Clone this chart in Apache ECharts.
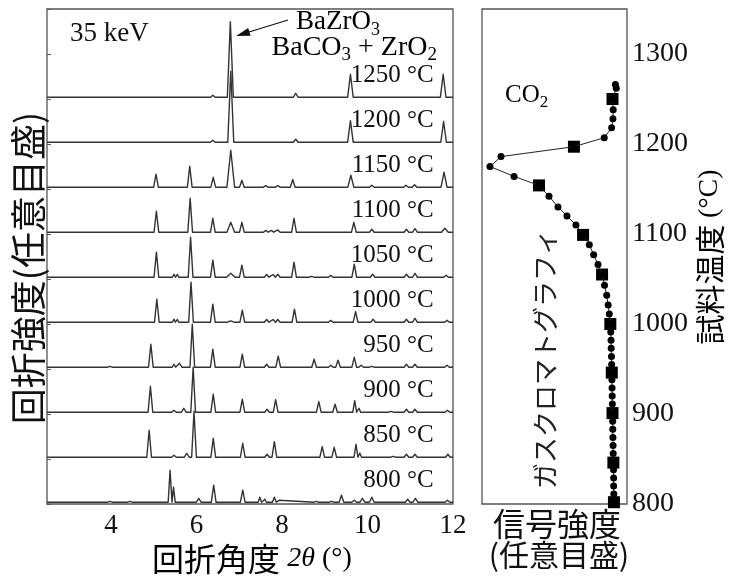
<!DOCTYPE html>
<html><head><meta charset="utf-8">
<script src="https://cdn.jsdelivr.net/npm/echarts@6/dist/echarts.min.js"></script>
<style>html,body{margin:0;padding:0;background:#fff}#c{width:734px;height:576px}</style>
</head><body><div id="c"></div>
<script>
// ---- data ----
const temps = [800, 850, 900, 950, 1000, 1050, 1100, 1150, 1200, 1250];
const tempLabels = ['800 °C','850 °C','900 °C','950 °C','1000 °C','1050 °C','1100 °C','1150 °C','1200 °C','1250 °C'];
// peaks: [2θ, intensity (a.u.), half-width]
const peaks800 = [[3.97,1],[4.44,1],[5.38,35.5,0.045],[5.46,16.7,0.04],[6.05,4.4],[6.40,18.9],[7.08,13.3],[7.48,5.5,0.04],[7.60,3.3,0.035],[7.68,2.2,0.035],[7.82,5.5,0.045],[7.94,2.2,0.04],[8.80,1],[9.16,1],[9.39,7.8],[9.69,2.2],[9.88,4.4],[10.10,5.5],[10.94,3.3],[11.12,4.4],[11.87,2.2]];
const peaks850 = [[4.89,30],[5.47,2.2],[5.77,4.4],[5.94,51],[6.39,21],[7.08,15.5],[7.65,3.3],[7.82,17.3],[8.94,11.8],[9.22,11],[9.73,14.4,0.045],[9.82,4.4,0.04],[10.6,1],[10.91,3.3],[11.11,3.3],[11.88,3.3]];
const peaks900 = [[4.92,28.9],[5.47,2.2],[5.70,4.4],[5.92,50],[6.39,20],[7.07,14.4],[7.65,3.3],[7.85,14],[8.86,11.8],[9.24,8.9],[9.70,12.9,0.045],[9.80,4.4,0.04],[10.55,1],[10.91,3.3],[11.11,3.3],[11.87,2.2]];
const peaks950 = [[3.97,1],[4.93,25.5],[5.47,3.3,0.04],[5.60,4.4],[5.90,47.8],[6.38,20],[7.07,14.4],[7.64,3.3],[7.91,12.2],[8.75,8.9],[9.14,2.2],[9.31,7.8],[9.69,11],[9.85,2.2],[10.1,1],[10.91,3.3],[11.11,3.3],[11.86,2.2]];
const peaks1000 = [[5.07,25.5],[5.47,3.3,0.035],[5.55,3,0.035],[5.87,44.4],[6.38,20],[6.80,1.5,0.08],[7.07,13.3],[7.64,3],[7.79,3],[7.90,3],[8.29,14.4],[9.14,2],[9.72,11.8],[10.13,3.3],[10.91,3.3],[11.11,4.4],[11.86,2.2]];
const peaks1050 = [[5.06,27.8],[5.47,3.3,0.035],[5.55,3,0.035],[5.86,44.4],[6.38,18.9],[6.80,4.4,0.1],[7.06,13.3],[7.64,3],[7.79,3],[7.90,3.3],[8.28,16.7],[8.69,1],[9.14,2],[9.69,14.4],[10.12,3.3],[10.91,3.3],[11.11,4.4],[11.84,2.2]];
const peaks1100 = [[5.06,23.3],[5.47,2,0.035],[5.55,2,0.035],[5.85,37.8],[6.38,15.5],[6.80,11,0.09],[7.06,11],[7.62,2],[7.75,2],[7.90,2.5],[8.28,15.5],[9.68,11],[10.1,3.3],[10.91,3.3],[11.11,3.9],[11.81,4.4,0.08]];
const peaks1150 = [[5.05,14.4],[5.47,1.7,0.035],[5.55,1.7,0.035],[5.84,23.3],[6.39,11],[6.80,41,0.09],[7.06,7.8],[7.62,1.7],[7.90,1.7],[8.25,8.5],[9.61,13.3,0.07],[10.1,2.2],[10.9,2.2],[11.1,2.8],[11.79,16.7,0.07]];
const peaks1200 = [[6.38,2.2],[6.80,79,0.07],[8.32,3.3],[9.60,24,0.065],[11.78,23,0.065]];
const peaks1250 = [[6.38,2.2],[6.79,84,0.07],[8.32,4.4],[9.60,25.5,0.065],[11.77,25.5,0.065]];
const allPeaks = [peaks800, peaks850, peaks900, peaks950, peaks1000, peaks1050, peaks1100, peaks1150, peaks1200, peaks1250];

// gas chromatography CO2 signal vs sample temperature
const co2Temp   = [802,811,820,829,838,846,856,865,874,883,892,901,911,920,929,938,946,955,964,973,982,991,1000,1011,1021,1032,1043,1055,1066,1077,1088,1099,1110,1120,1130,1142,1154,1164,1175,1186,1197,1207,1218,1228,1238,1250,1262,1266];
const co2Signal = [91.0,90.9,90.8,90.8,90.7,90.6,90.5,90.4,90.3,90.2,90.1,90.0,89.9,89.8,89.7,89.6,89.5,89.4,89.3,89.1,89.0,88.8,88.5,87.8,87.0,86.0,84.5,82.8,80.0,77.0,74.0,69.7,64.8,58.6,52.4,46.2,39.3,22.1,5.5,13.1,63.4,84.3,89.4,90.3,90.5,90.0,92.6,92.0];
const xrdTemp   = [802,846,901,946,1000,1055,1099,1154,1197,1250];
const xrdSignal = [91.0,90.6,90.0,89.5,88.5,82.8,69.7,39.3,63.4,90.0];

// ---- chart ----
const SERIF = 'Liberation Serif';
const CJK = 'Noto Sans CJK JP';
const XMIN = 2.5, XMAX = 12;

function spectrum(base, peaks) {
  const pts = [[XMIN, base]];
  peaks.slice().sort((a,b)=>a[0]-b[0]).forEach(p => {
    const hw = p[2] || 0.055;
    pts.push([p[0]-hw, base], [p[0], base + p[1]], [p[0]+hw, base]);
  });
  pts.push([XMAX, base]);
  return pts;
}

const series = [];
temps.forEach((t, i) => {
  series.push({
    type: 'line', xAxisIndex: 0, yAxisIndex: 0, data: spectrum(t, allPeaks[i]),
    showSymbol: false, symbol: 'none', silent: true, smooth: false,
    lineStyle: { color: '#333', width: 1.4, join: 'round' }, animation: false
  });
});
series.push({
  type: 'scatter', xAxisIndex: 0, yAxisIndex: 0, symbolSize: 0, silent: true,
  itemStyle: { opacity: 1 },
  data: temps.map((t, i) => ({ value: [11.55, t + 24], name: tempLabels[i] })),
  label: { show: true, position: 'left', distance: 0, formatter: p => p.name, opacity: 1,
    fontFamily: SERIF, fontSize: 25, color: '#111', align: 'right', verticalAlign: 'middle' },
  animation: false
});
series.push({
  type: 'line', xAxisIndex: 1, yAxisIndex: 1,
  data: co2Temp.map((t, i) => [co2Signal[i], t]),
  symbol: 'circle', symbolSize: 7, showSymbol: true,
  itemStyle: { color: '#000' }, lineStyle: { color: '#222', width: 1 }, animation: false
});
series.push({
  type: 'scatter', xAxisIndex: 1, yAxisIndex: 1,
  data: xrdTemp.map((t, i) => [xrdSignal[i], t]),
  symbol: 'rect', symbolSize: 12, itemStyle: { color: '#000', opacity: 1 }, animation: false
});

const option = {
  backgroundColor: '#fff',
  animation: false,
  grid: [
    { left: 47, top: 9, width: 406, height: 495, show: true, borderColor: '#555', borderWidth: 1.3, containLabel: false },
    { left: 482, top: 9, width: 145, height: 495, show: true, borderColor: '#555', borderWidth: 1.3, containLabel: false }
  ],
  xAxis: [
    { type: 'value', gridIndex: 0, min: XMIN, max: XMAX, splitNumber: 5,
      axisLine: { show: false }, axisTick: { show: false }, splitLine: { show: false },
      axisLabel: { showMinLabel: false, fontFamily: SERIF, fontSize: 27, color: '#111', margin: 8 } },
    { type: 'value', gridIndex: 1, min: 0, max: 100,
      axisLine: { show: false }, axisTick: { show: false }, splitLine: { show: false }, axisLabel: { show: false } }
  ],
  yAxis: [
    { type: 'value', gridIndex: 0, min: 798, max: 1348, interval: 50,
      axisLine: { show: false }, axisTick: { show: true, inside: true, length: 4, lineStyle: { color: '#555' } },
      splitLine: { show: false }, axisLabel: { show: false } },
    { type: 'value', gridIndex: 1, position: 'right', min: 800, max: 1350, interval: 100,
      axisLine: { show: false }, axisTick: { show: false }, splitLine: { show: false },
      axisLabel: { showMaxLabel: false, formatter: v => String(v), fontFamily: SERIF, fontSize: 28, color: '#111', margin: 5 } }
  ],
  series,
  graphic: [
    { type: 'text', x: 70, y: 34, style: { text: '35 keV', font: '27px ' + SERIF, fill: '#111', verticalAlign: 'middle' } },
    { type: 'text', x: 296, y: 22, style: { text: '{n|BaZrO}{s|3}', verticalAlign: 'middle',
        rich: { n: { fontFamily: SERIF, fontSize: 27, lineHeight: 34, color: '#111' },
                s: { fontFamily: SERIF, fontSize: 18, lineHeight: 18, verticalAlign: 'bottom', color: '#111' } } } },
    { type: 'text', x: 437, y: 48, style: { text: '{n|BaCO}{s|3}{n| + ZrO}{s|2}', align: 'right', verticalAlign: 'middle',
        rich: { n: { fontFamily: SERIF, fontSize: 28, lineHeight: 34, color: '#111' },
                s: { fontFamily: SERIF, fontSize: 19, lineHeight: 19, verticalAlign: 'bottom', color: '#111' } } } },
    { type: 'line', shape: { x1: 288, y1: 20, x2: 249, y2: 32 }, style: { stroke: '#111', lineWidth: 1.3 } },
    { type: 'polygon', shape: { points: [[236, 36], [250.6, 35.7], [248.2, 28.1]] }, style: { fill: '#111' } },
    { type: 'text', x: 505, y: 95, style: { text: '{n|CO}{s|2}', verticalAlign: 'middle',
        rich: { n: { fontFamily: SERIF, fontSize: 25, lineHeight: 32, color: '#111' },
                s: { fontFamily: SERIF, fontSize: 17, lineHeight: 17, verticalAlign: 'bottom', color: '#111' } } } },
    { type: 'text', x: 545, y: 359, rotation: Math.PI / 2, style: { text: 'ガスクロマトグラフィ', font: '26px "' + CJK + '"', fill: '#222', align: 'center', verticalAlign: 'middle' } },
    { type: 'text', x: 28, y: 268, rotation: Math.PI / 2, style: { text: '回折強度(任意目盛)', font: '36px "' + CJK + '"', fill: '#111', align: 'center', verticalAlign: 'middle' } },
    { type: 'text', x: 252, y: 559, style: { text: '{c|回折角度 }{i|2θ}{r| (°)}', align: 'center', verticalAlign: 'middle',
        rich: { c: { fontFamily: CJK, fontSize: 32, color: '#111' }, i: { fontFamily: SERIF, fontStyle: 'italic', fontSize: 28, color: '#111' }, r: { fontFamily: SERIF, fontSize: 28, color: '#111' } } } },
    { type: 'text', x: 557, y: 524, style: { text: '信号強度', font: '32px "' + CJK + '"', fill: '#111', align: 'center', verticalAlign: 'middle' } },
    { type: 'text', x: 559, y: 555, style: { text: '(任意目盛)', font: '30px "' + CJK + '"', fill: '#111', align: 'center', verticalAlign: 'middle' } },
    { type: 'text', x: 710, y: 257, rotation: Math.PI / 2, style: { text: '{c|試料温度 }{r|(°C)}', align: 'center', verticalAlign: 'middle',
        rich: { c: { fontFamily: CJK, fontSize: 30, color: '#111' }, r: { fontFamily: SERIF, fontSize: 28, color: '#111' } } } }
  ]
};
const chart = echarts.init(document.getElementById('c'), null, { renderer: 'canvas' });
chart.setOption(option);
</script></body></html>
